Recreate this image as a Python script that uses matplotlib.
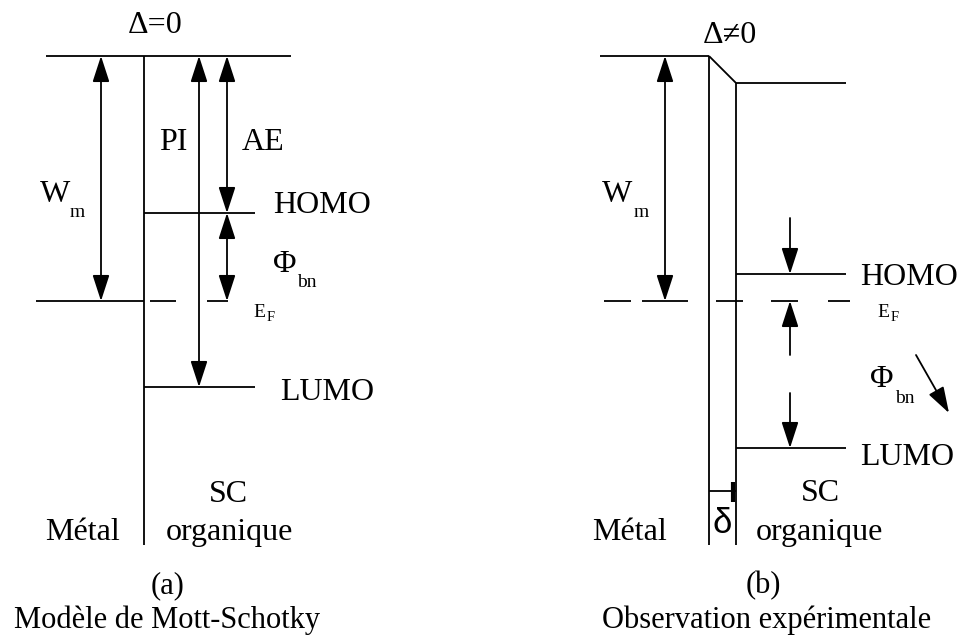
import matplotlib
matplotlib.use("Agg")
import matplotlib.pyplot as plt
from matplotlib.patches import FancyArrowPatch

# niveaux d'energie, en pixels de l'image (y vers le bas)
niveau_vide = 56
niveau_vide_sc_b = 83
niveau_fermi = 301
homo_a, lumo_a = 213, 387
homo_b, lumo_b = 274, 448
bas_interface = 545

# abscisses
interface_a = 144
metal_b, sc_b = 709, 736

# segments du niveau de Fermi (traits / tirets)
fermi_a = [(36, 144), (150, 176), (207, 228)]
fermi_b = [(604, 631), (642, 688), (716, 743), (771, 798), (828, 850)]

police = ['Liberation Serif', 'DejaVu Serif']
plt.rcParams['font.family'] = police

fig = plt.figure(figsize=(9.65, 6.37), dpi=100)
ax = fig.add_axes([0, 0, 1, 1])
ax.set_xlim(0, 965)
ax.set_ylim(637, 0)
ax.axis('off')

LW = 1.3


def trait(x0, y0, x1, y1, lw=LW):
    ax.plot([x0, x1], [y0, y1], color='black', lw=lw, solid_capstyle='butt')


def fleche(x0, y0, x1, y1, double=False, long=16):
    style = '<|-|>' if double else '-|>'
    ax.add_patch(FancyArrowPatch((x0, y0), (x1, y1),
                                 arrowstyle=f'{style},head_length={long},head_width=5.2',
                                 mutation_scale=1, color='black', lw=LW,
                                 shrinkA=0, shrinkB=0))


def texte(x, y, s, taille=23, ha='left', **kw):
    ax.text(x, y, s, fontsize=taille, ha=ha, va='baseline', color='black', **kw)


def fermi(x, y):
    texte(x, y, 'E', taille=14)
    texte(x + 14, y + 4, 'F', taille=10.5)


# ---------- (a) Modele de Mott-Schottky ----------
trait(46, niveau_vide, 291, niveau_vide)
trait(interface_a, niveau_vide, interface_a, bas_interface)
trait(interface_a, homo_a, 255, homo_a)
trait(interface_a, lumo_a, 255, lumo_a)
for x0, x1 in fermi_a:
    trait(x0, niveau_fermi, x1, niveau_fermi)

fleche(101, niveau_vide, 101, niveau_fermi, double=True)
fleche(199, niveau_vide, 199, lumo_a, double=True)
fleche(227, niveau_vide, 227, homo_a, double=True)
fleche(227, homo_a, 227, niveau_fermi, double=True)

texte(155, 33, 'Δ=0', ha='center')
texte(173, 150, 'PI', ha='center')
texte(263, 150, 'AE', ha='center')
texte(40, 202, 'W')
texte(70, 217, 'm', taille=14)
texte(273, 213, 'HOMO')
texte(273, 272, 'Φ')
texte(297, 287, 'bn', taille=14)
fermi(253, 317)
texte(280, 400, 'LUMO')
texte(228, 502, 'SC', ha='center')
texte(229, 540, 'organique', ha='center')
texte(45, 540, 'Métal')
texte(168, 593, '(a)', taille=22, ha='center')
texte(167, 628, 'Modèle de Mott-Schotky', taille=22, ha='center')

# ---------- (b) Observation experimentale ----------
trait(600, niveau_vide, metal_b, niveau_vide)
trait(metal_b, niveau_vide, sc_b, niveau_vide_sc_b)
trait(sc_b, niveau_vide_sc_b, 846, niveau_vide_sc_b)
trait(metal_b, niveau_vide, metal_b, bas_interface)
trait(sc_b, niveau_vide_sc_b, sc_b, bas_interface)
trait(sc_b, homo_b, 846, homo_b)
trait(sc_b, lumo_b, 846, lumo_b)
for x0, x1 in fermi_b:
    trait(x0, niveau_fermi, x1, niveau_fermi)

fleche(665, niveau_vide, 665, niveau_fermi, double=True)
fleche(790, 218, 790, homo_b)
fleche(790, 355, 790, niveau_fermi)
fleche(790, 393, 790, lumo_b)
fleche(916, 355, 949, 413)

# epaisseur delta
trait(metal_b, 491, sc_b, 491)
trait(733, 482, 733, 502, lw=3)

texte(730, 43, 'Δ≠0', ha='center')
texte(602, 202, 'W')
texte(634, 217, 'm', taille=14)
texte(860, 285, 'HOMO')
fermi(877, 317)
texte(870, 387, 'Φ')
texte(895, 403, 'bn', taille=14)
texte(860, 465, 'LUMO')
texte(820, 501, 'SC', ha='center')
texte(819, 540, 'organique', ha='center')
texte(592, 540, 'Métal')
texte(722, 533, 'δ', taille=25, ha='center', family=['Liberation Sans', 'DejaVu Sans'])
texte(763, 593, '(b)', taille=22, ha='center')
texte(767, 628, 'Observation expérimentale', taille=22, ha='center')

fig.savefig('out.png', dpi=100)
